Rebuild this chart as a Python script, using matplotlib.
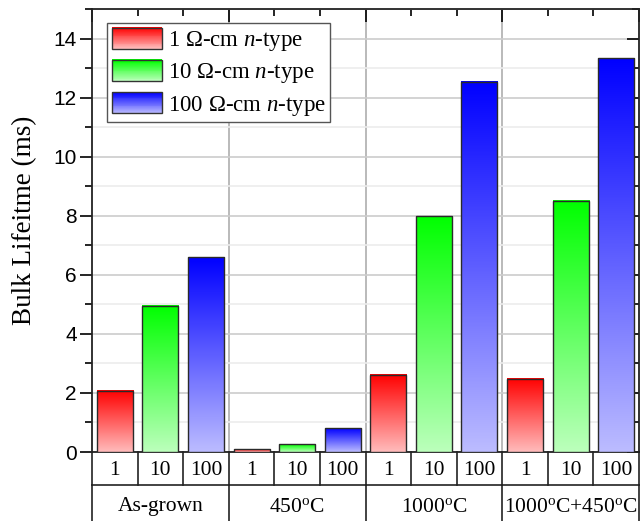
import numpy as np
import matplotlib
matplotlib.use("Agg")
from matplotlib import pyplot as plt
from matplotlib.colors import LinearSegmentedColormap
from matplotlib.legend_handler import HandlerBase
from matplotlib.patches import Rectangle
from matplotlib.lines import Line2D
from matplotlib.ticker import MultipleLocator

plt.rcParams['mathtext.fontset'] = 'custom'
plt.rcParams['mathtext.rm'] = 'Liberation Serif'
plt.rcParams['mathtext.it'] = 'Liberation Serif:italic'

# data
treatments = ['As-grown', r'450$^{\rm o}$C', r'1000$^{\rm o}$C', r'1000$^{\rm o}$C+450$^{\rm o}$C']
resistivity = ['1', '10', '100']
series_labels = [r'1 Ω-cm $n$-type', r'10 Ω-cm $n$-type', r'100 Ω-cm $n$-type']
lifetime_1 = [2.08, 0.10, 2.61, 2.48]
lifetime_10 = [4.95, 0.27, 7.99, 8.50]
lifetime_100 = [6.60, 0.81, 12.53, 13.33]

top_colors = ['#ff0000', '#00ff00', '#0000ff']
bottom_colors = ['#ffbcbc', '#bcffbc', '#bcbcff']

SERIF = 'Liberation Serif'
SANS = 'Liberation Sans'


class GradientHandler(HandlerBase):
    """Legend key drawn as stacked strips to mimic the vertical gradient."""

    def __init__(self, top, bottom, n=24):
        super().__init__()
        self.cmap = LinearSegmentedColormap.from_list('g', [bottom, top])
        self.n = n

    def create_artists(self, legend, orig_handle, xdescent, ydescent,
                       width, height, fontsize, trans):
        arts = []
        y0 = -ydescent
        h = height
        for i in range(self.n):
            c = self.cmap(i / (self.n - 1))
            arts.append(Rectangle((-xdescent, y0 + h * i / self.n), width, h / self.n + 0.3,
                                  facecolor=c, edgecolor='none', transform=trans))
        arts.append(Rectangle((-xdescent, y0), width, h, facecolor='none',
                              edgecolor='#333333', lw=1.0, transform=trans))
        return arts


fig = plt.figure(figsize=(6.4, 5.21), dpi=100)
ax = fig.add_axes([92 / 640, 69 / 521, 547 / 640, 443 / 521])

n_groups = len(treatments)
n_series = len(resistivity)
all_series = [lifetime_1, lifetime_10, lifetime_100]

handles = []
for s, values in enumerate(all_series):
    xs = np.arange(n_groups) * n_series + s
    bars = ax.bar(xs, values, width=0.79, facecolor='none', edgecolor='#2a2a2a',
                  lw=1.0, zorder=4)
    cmap = LinearSegmentedColormap.from_list('g%d' % s, [bottom_colors[s], top_colors[s]])
    grad = np.linspace(0, 1, 256).reshape(-1, 1)
    for b in bars:
        ax.imshow(grad, cmap=cmap, origin='lower', aspect='auto', zorder=3,
                  extent=(b.get_x(), b.get_x() + b.get_width(), 0, b.get_height()))
    handles.append(bars)

ax.set_xlim(-0.5, n_groups * n_series - 0.5)
ax.set_ylim(0, 15)
ax.set_aspect('auto')

# grid
ax.yaxis.set_major_locator(MultipleLocator(2))
ax.yaxis.set_minor_locator(MultipleLocator(1))
ax.grid(axis='y', which='major', color='#cccccc', lw=1.2, zorder=0)
ax.grid(axis='y', which='minor', color='#ececec', lw=1.2, zorder=0)
for g in range(1, n_groups):
    ax.axvline(g * n_series - 0.5, color='#b4b4b4', lw=1.3, zorder=1)

# ticks
group_edges = np.arange(n_groups + 1) * n_series - 0.5
cell_edges = np.arange(n_groups * n_series + 1) - 0.5
ax.set_xticks(group_edges)
ax.set_xticks(cell_edges, minor=True)
ax.tick_params(axis='x', which='both', bottom=False, labelbottom=False,
               top=True, direction='in', width=1.2)
ax.tick_params(axis='x', which='major', length=9)
ax.tick_params(axis='x', which='minor', length=5)
ax.tick_params(axis='y', which='both', left=True, right=True, width=1.2)
ax.tick_params(axis='y', which='major', length=9, labelsize=15, pad=2)
ax.tick_params(axis='y', which='minor', length=5)
ax.yaxis.set_tick_params(which='both', direction='out')
for t in ax.yaxis.get_ticklabels():
    t.set_fontfamily(SANS)
# right-side ticks inward
for tick in ax.yaxis.get_major_ticks() + ax.yaxis.get_minor_ticks():
    tick.tick2line.set_marker(0)

for sp in ax.spines.values():
    sp.set_linewidth(1.3)
    sp.set_color('#222222')

ax.set_ylabel('Bulk Lifeitme (ms)', family=SERIF, fontsize=19.5, va='center')
ax.yaxis.set_label_coords(-0.124, 0.524)

# table under the axis
tr = ax.get_xaxis_transform()
row1 = -33 / 443
row2 = -80 / 443
line_kw = dict(color='#222222', lw=1.2, transform=tr, clip_on=False)
ax.add_line(Line2D([cell_edges[0], cell_edges[-1]], [row1, row1], **line_kw))
for x in cell_edges:
    ax.add_line(Line2D([x, x], [0, row1], **line_kw))
for x in group_edges:
    ax.add_line(Line2D([x, x], [row1, row2], **line_kw))
for g in range(n_groups):
    for s in range(n_series):
        ax.text(g * n_series + s, row1 / 2 - 2 / 443, resistivity[s], transform=tr,
                ha='center', va='center', family=SERIF, fontsize=15.5)
    ax.text(g * n_series + 1, row1 - 22 / 443, treatments[g], transform=tr,
            ha='center', va='center', family=SERIF, fontsize=15.5)

leg = ax.legend(handles, series_labels, loc='upper left',
                bbox_to_anchor=(15 / 547, 1 - 14 / 443),
                handler_map={h: GradientHandler(top_colors[i], bottom_colors[i])
                             for i, h in enumerate(handles)},
                prop={'family': SERIF, 'size': 16.5}, handlelength=2.2,
                handleheight=1.05, handletextpad=0.25, labelspacing=0.3,
                borderpad=0.2, borderaxespad=0, fancybox=False,
                edgecolor='#555555', framealpha=1)
leg.get_frame().set_linewidth(1.0)
leg.set_zorder(6)

fig.savefig('out.png', dpi=100)
